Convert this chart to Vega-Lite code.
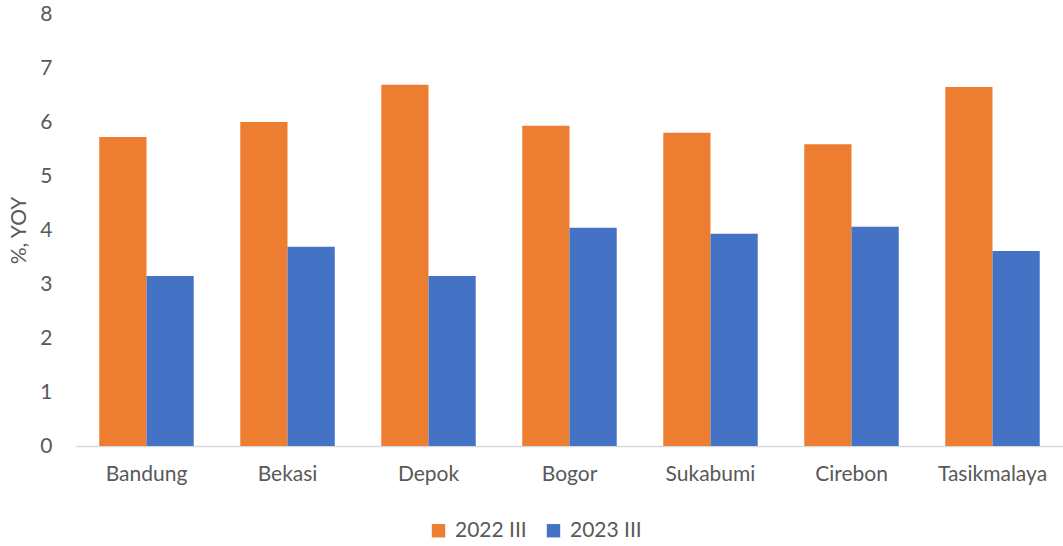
{
  "$schema": "https://vega.github.io/schema/vega-lite/v6.json",
  "autosize": {"type": "none"},
  "padding": {"left": 76, "top": 14, "right": 0, "bottom": 100},
  "width": 987,
  "height": 432,
  "background": "white",
  "config": {
    "view": {"stroke": null},
    "font": "Lato",
    "axis": {"labelFont": "Lato", "titleFont": "Lato", "labelColor": "#595959", "titleColor": "#595959"}
  },
  "data": {
    "values": [
      {"city": "Bandung", "period": "2022 III", "value": 5.72},
      {"city": "Bandung", "period": "2023 III", "value": 3.15},
      {"city": "Bekasi", "period": "2022 III", "value": 6.0},
      {"city": "Bekasi", "period": "2023 III", "value": 3.69},
      {"city": "Depok", "period": "2022 III", "value": 6.69},
      {"city": "Depok", "period": "2023 III", "value": 3.15},
      {"city": "Bogor", "period": "2022 III", "value": 5.93},
      {"city": "Bogor", "period": "2023 III", "value": 4.04},
      {"city": "Sukabumi", "period": "2022 III", "value": 5.8},
      {"city": "Sukabumi", "period": "2023 III", "value": 3.93},
      {"city": "Cirebon", "period": "2022 III", "value": 5.59},
      {"city": "Cirebon", "period": "2023 III", "value": 4.06},
      {"city": "Tasikmalaya", "period": "2022 III", "value": 6.65},
      {"city": "Tasikmalaya", "period": "2023 III", "value": 3.61}
    ]
  },
  "mark": {"type": "bar"},
  "encoding": {
    "x": {
      "field": "city",
      "type": "nominal",
      "sort": ["Bandung", "Bekasi", "Depok", "Bogor", "Sukabumi", "Cirebon", "Tasikmalaya"],
      "scale": {"paddingInner": 0.33, "paddingOuter": 0.165},
      "axis": {"title": null, "labelAngle": 0, "labelFontSize": 21, "labelPadding": 17, "ticks": false, "domainColor": "#d9d9d9", "domainWidth": 1.5}
    },
    "xOffset": {"field": "period", "type": "nominal", "scale": {"paddingInner": 0, "paddingOuter": 0}},
    "y": {
      "field": "value",
      "type": "quantitative",
      "scale": {"domain": [0, 8]},
      "axis": {"title": "%, YOY", "titleFontSize": 21, "titleFontWeight": "normal", "titlePadding": 10, "labelFontSize": 21, "labelPadding": 24, "tickCount": 8, "ticks": false, "domain": false, "grid": false}
    },
    "color": {
      "field": "period",
      "type": "nominal",
      "scale": {"domain": ["2022 III", "2023 III"], "range": ["#ED7D31", "#4472C4"]},
      "legend": {
        "title": null,
        "orient": "none",
        "direction": "horizontal",
        "legendX": 352,
        "legendY": 506,
        "symbolType": "square",
        "symbolSize": 180,
        "symbolStrokeWidth": 0,
        "labelFontSize": 21,
        "labelColor": "#595959",
        "labelFont": "Lato",
        "columnPadding": 16,
        "labelOffset": 6
      }
    }
  }
}
